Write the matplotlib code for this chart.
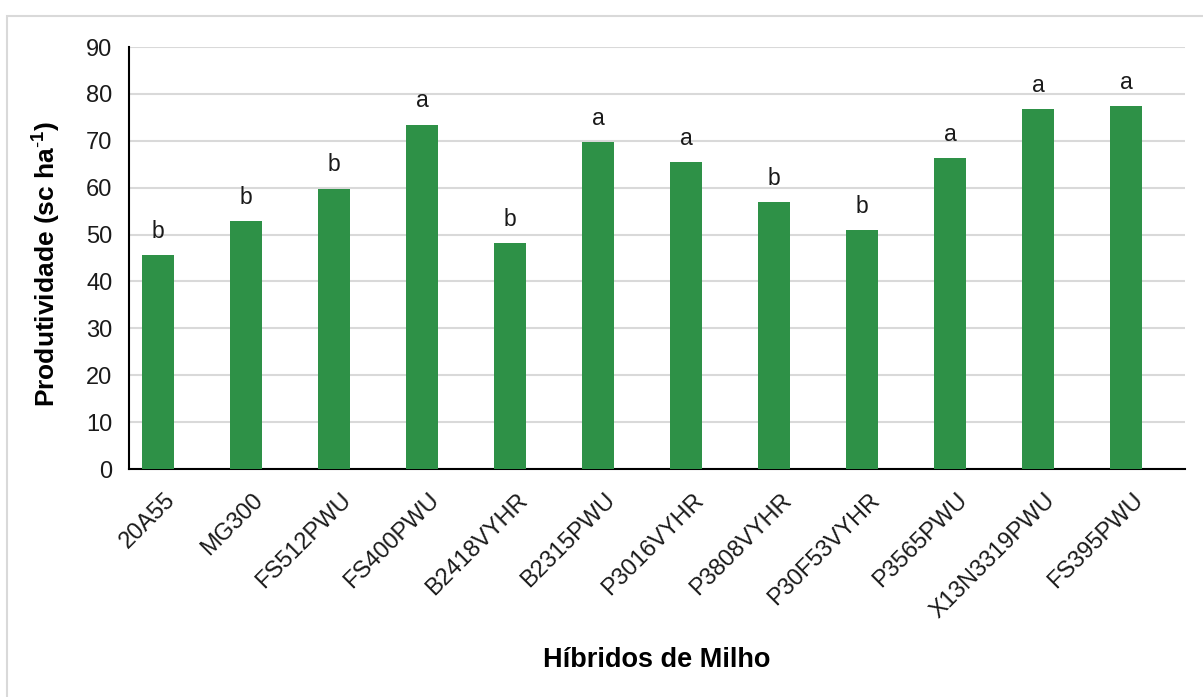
import matplotlib
matplotlib.use("Agg")
import matplotlib.pyplot as plt
from matplotlib.patches import Rectangle
from matplotlib.transforms import ScaledTranslation

plt.rcParams['font.family'] = ['Liberation Sans', 'DejaVu Sans']
plt.rcParams['mathtext.fontset'] = 'custom'
plt.rcParams['mathtext.rm'] = 'Liberation Sans'
plt.rcParams['mathtext.bf'] = 'Liberation Sans:bold'

hibridos = ["20A55", "MG300", "FS512PWU", "FS400PWU", "B2418VYHR", "B2315PWU",
            "P3016VYHR", "P3808VYHR", "P30F53VYHR", "P3565PWU", "X13N3319PWU", "FS395PWU"]
produtividade = [45.6, 52.9, 59.8, 73.4, 48.1, 69.7, 65.5, 56.9, 50.9, 66.3, 76.8, 77.4]
letras = ["b", "b", "b", "a", "b", "a", "a", "b", "b", "a", "a", "a"]

W, H = 1203, 697
fig = plt.figure(figsize=(W/100, H/100), dpi=100)
fig.patches.append(Rectangle((7/W, -0.1), 1.2, (H-16)/H + 0.1, transform=fig.transFigure,
                             fill=False, edgecolor='#d9d9d9', linewidth=1.5))
ax = fig.add_axes([129/W, 1 - 469/H, (1185-129)/W, (469-47)/H])

x = list(range(len(hibridos)))
ax.bar(x, produtividade, width=0.36, color='#2E9147', zorder=3)
for xi, v, l in zip(x, produtividade, letras):
    ax.annotate(l, (xi, v), xytext=(0, 12.5), textcoords='offset points',
                ha='center', va='baseline', fontsize=16.5, color='#1a1a1a')

ax.set_ylim(0, 90)
ax.set_xlim(-0.33, len(hibridos) - 0.33)
ax.set_yticks(range(0, 91, 10))
ax.yaxis.grid(True, color='#d9d9d9', linewidth=1.5, zorder=0)
ax.set_axisbelow(True)
for s in ['top', 'right']:
    ax.spines[s].set_visible(False)
ax.spines['left'].set_linewidth(1.5)
ax.spines['bottom'].set_linewidth(1.5)
ax.tick_params(axis='y', length=0, labelsize=17, colors='#1a1a1a', pad=12)
ax.tick_params(axis='x', length=0, labelsize=17, colors='#1a1a1a', pad=20)
ax.set_xticks(x)
ax.set_xticklabels(hibridos, rotation=45, ha='right', va='center', rotation_mode='anchor')
off = ScaledTranslation(14/100, 0, fig.dpi_scale_trans)
for lbl in ax.get_xticklabels():
    lbl.set_transform(lbl.get_transform() + off)
ax.set_ylabel(r'Produtividade (sc ha$^{\mathbf{\text{-}1}}$)', fontsize=19, fontweight='bold')
ax.yaxis.set_label_coords(-(129-62)/1056, (469-264)/422)
ax.set_xlabel('Híbridos de Milho', fontsize=19.5, fontweight='bold', labelpad=18)

fig.savefig('out.png', dpi=100)
